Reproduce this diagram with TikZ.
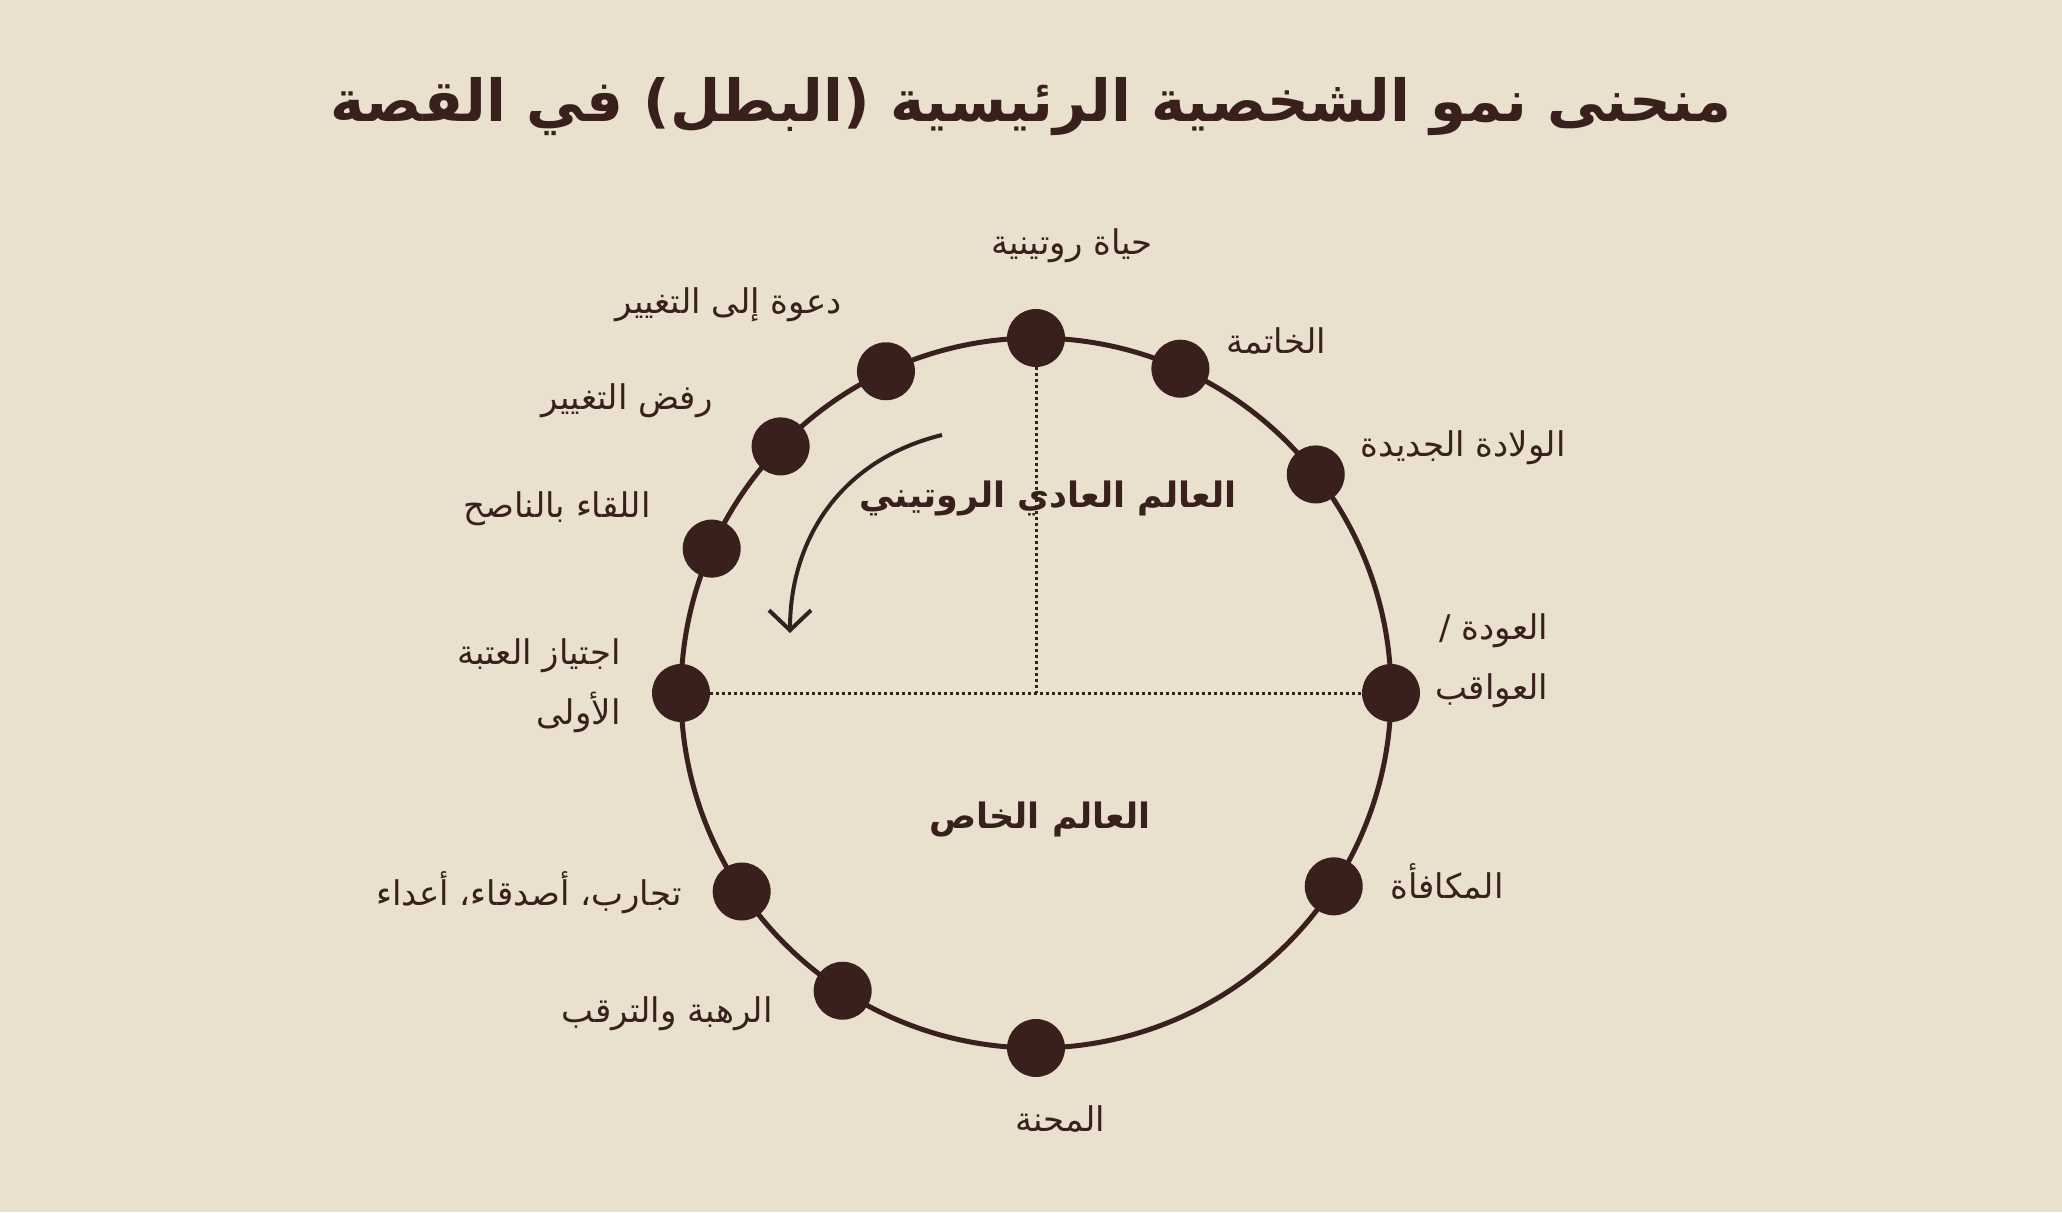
\documentclass[tikz,border=0pt]{standalone}
\usepackage{fontspec}
\newfontfamily\arabicfont[Script=Arabic]{DejaVu Sans}
\TeXXeTstate=1
\usetikzlibrary{arrows.meta,calc}
\definecolor{bg}{HTML}{EAE0CE}
\definecolor{ink}{HTML}{3A201C}
\definecolor{arrowink}{HTML}{30221F}
\begin{document}
\begin{tikzpicture}[x=0.5pt,y=0.5pt,
  lbl/.style={text=ink,font=\arabicfont\fontsize{17}{30}\selectfont,inner sep=0pt},
  zone/.style={text=ink,font=\arabicfont\bfseries\fontsize{17.5}{22}\selectfont,inner sep=0pt},
  titletext/.style={text=ink,font=\arabicfont\bfseries\fontsize{29}{36}\selectfont,inner sep=0pt},
  dot/.style={circle,fill=ink,minimum size=29pt,inner sep=0pt},
  ring/.style={draw=ink,line width=2.5pt},
  dotline/.style={draw=ink,line width=1.5pt,dash pattern=on 1.5pt off 1.5pt},
  flow/.style={draw=arrowink,line width=2pt,-{Straight Barb[length=10pt,width=21pt,line width=2pt]}}]
\fill[bg] (0,0) rectangle (2062,1212);
\useasboundingbox (0,0) rectangle (2062,1212);

\node[titletext] (title) at (1031,1105) {\beginR منحنى نمو الشخصية الرئيسية (البطل) في القصة\endR};

\coordinate (c) at (1036,519);
\def\R{355}
\draw[ring] (c) circle[radius=\R];

\node[dot] (d1) at ($(c)+(90:\R)$) {};
\node[dot] (d2) at ($(c)+(66:\R)$) {};
\node[dot] (d3) at ($(c)+(38:\R)$) {};
\node[dot] (d4) at ($(c)+(0:\R)$) {};
\node[dot] (d5) at ($(c)+(-33:\R)$) {};
\node[dot] (d6) at ($(c)+(-90:\R)$) {};
\node[dot] (d7) at ($(c)+(-123:\R)$) {};
\node[dot] (d8) at ($(c)+(-146:\R)$) {};
\node[dot] (d9) at ($(c)+(180:\R)$) {};
\node[dot] (d10) at ($(c)+(156:\R)$) {};
\node[dot] (d11) at ($(c)+(136:\R)$) {};
\node[dot] (d12) at ($(c)+(115:\R)$) {};

\draw[dotline] (d1) -- (c);
\draw[dotline] (d9) -- (d4);

\coordinate (a1) at (942,777);
\coordinate (a2) at (790,579);
\draw[flow] (a1) .. controls (840,752) and (790,672) .. (a2);

\node[zone] (ordinary) at (1048,714) {\beginR العالم العادي الروتيني\endR};
\node[zone] (special) at (1040,393) {\beginR العالم الخاص\endR};

\node[lbl] (l1) at (1072,966) {\beginR حياة روتينية\endR};
\node[lbl,anchor=west] (l2) at (1226,871) {\beginR الخاتمة\endR};
\node[lbl,anchor=west] (l3) at (1360,764) {\beginR الولادة الجديدة\endR};
\node[lbl,anchor=west,align=right] (l4) at (1435,551) {\beginR العودة /\endR\\\beginR العواقب\endR};
\node[lbl,anchor=west] (l5) at (1390,330) {\beginR المكافأة\endR};
\node[lbl] (l6) at (1060,93) {\beginR المحنة\endR};
\node[lbl,anchor=east] (l7) at (773,198) {\beginR الرهبة والترقب\endR};
\node[lbl,anchor=east] (l8) at (682,319) {\beginR تجارب، أصدقاء، أعداء\endR};
\node[lbl,anchor=east,align=right] (l9) at (621,526) {\beginR اجتياز العتبة\endR\\\beginR الأولى\endR};
\node[lbl,anchor=east] (l10) at (651,703) {\beginR اللقاء بالناصح\endR};
\node[lbl,anchor=east] (l11) at (713,811) {\beginR رفض التغيير\endR};
\node[lbl,anchor=east] (l12) at (842,907) {\beginR دعوة إلى التغيير\endR};
\end{tikzpicture}
\end{document}
